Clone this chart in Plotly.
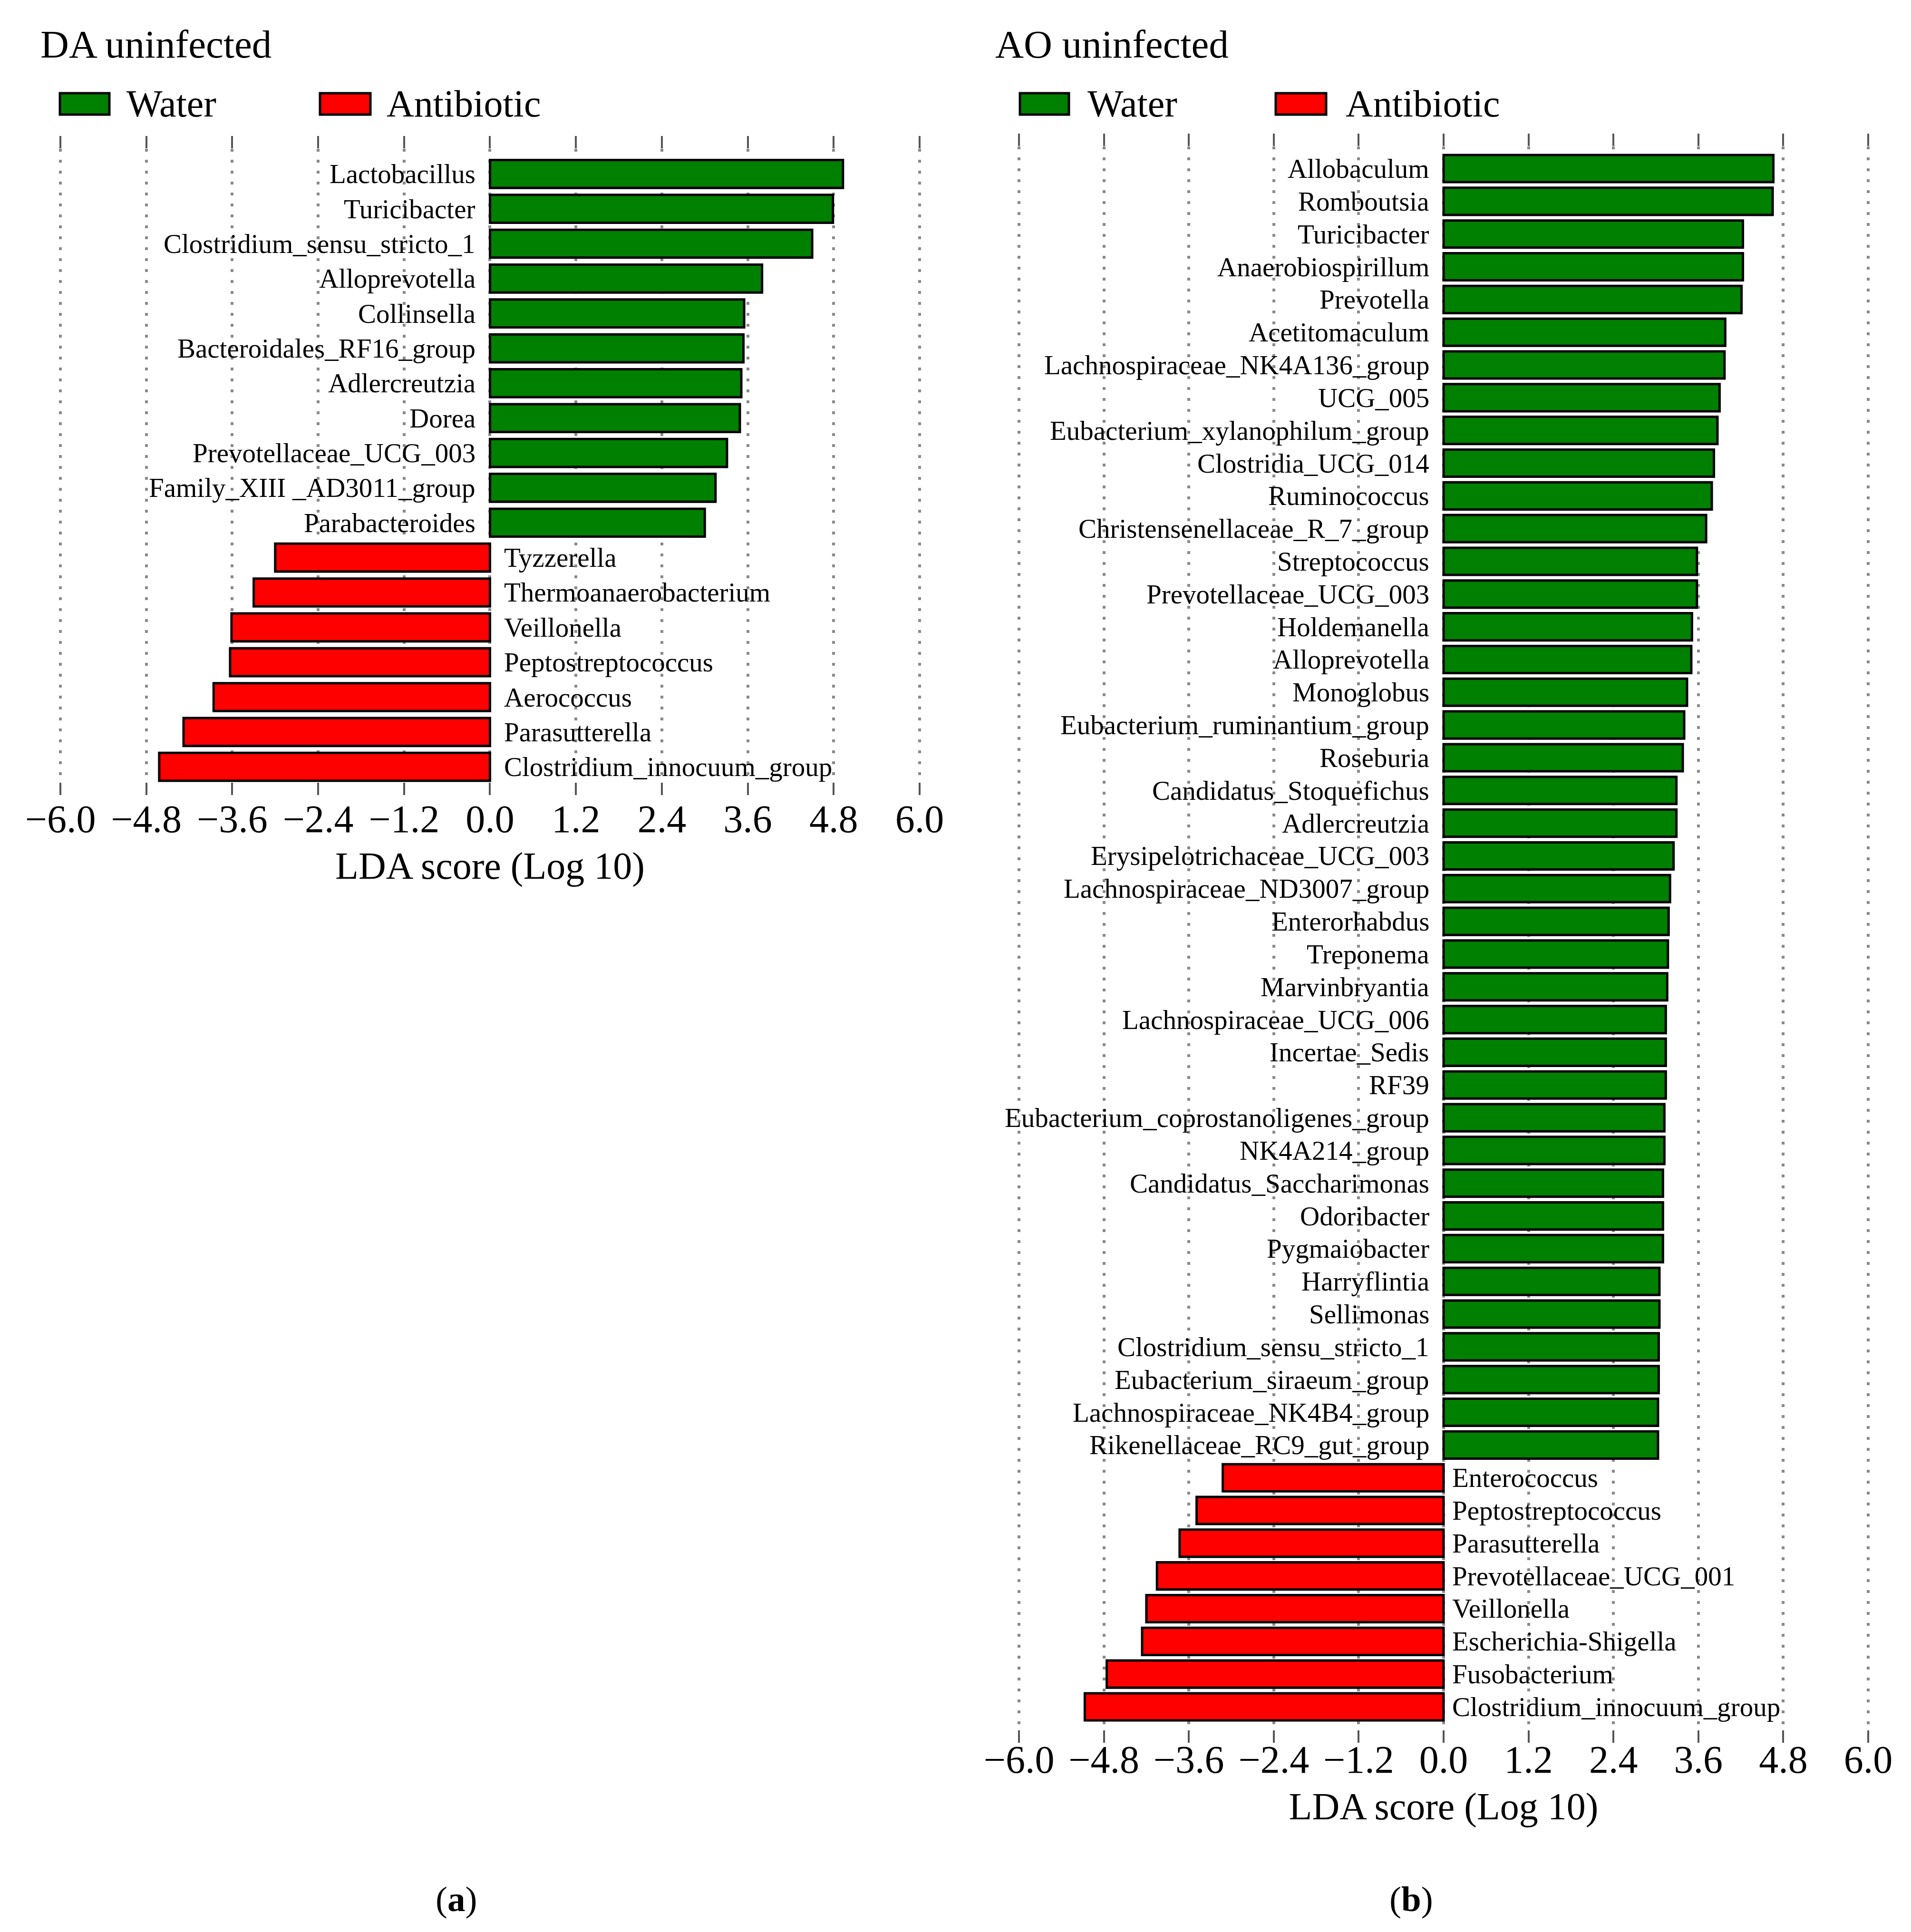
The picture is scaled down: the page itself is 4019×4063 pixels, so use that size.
import plotly.graph_objects as go

# LEfSe LDA scores (positive = Water, negative = Antibiotic)
da_taxa = [
    "Lactobacillus", "Turicibacter", "Clostridium_sensu_stricto_1", "Alloprevotella",
    "Collinsella", "Bacteroidales_RF16_group", "Adlercreutzia", "Dorea",
    "Prevotellaceae_UCG_003", "Family_XIII _AD3011_group", "Parabacteroides",
    "Tyzzerella", "Thermoanaerobacterium", "Veillonella", "Peptostreptococcus",
    "Aerococcus", "Parasutterella", "Clostridium_innocuum_group",
]
da_lda = [
    4.93, 4.79, 4.50, 3.80, 3.55, 3.54, 3.51, 3.49, 3.31, 3.15, 3.00,
    -3.00, -3.30, -3.61, -3.63, -3.86, -4.28, -4.62,
]

ao_taxa = [
    "Allobaculum", "Romboutsia", "Turicibacter", "Anaerobiospirillum", "Prevotella",
    "Acetitomaculum", "Lachnospiraceae_NK4A136_group", "UCG_005",
    "Eubacterium_xylanophilum_group", "Clostridia_UCG_014", "Ruminococcus",
    "Christensenellaceae_R_7_group", "Streptococcus", "Prevotellaceae_UCG_003",
    "Holdemanella", "Alloprevotella", "Monoglobus", "Eubacterium_ruminantium_group",
    "Roseburia", "Candidatus_Stoquefichus", "Adlercreutzia",
    "Erysipelotrichaceae_UCG_003", "Lachnospiraceae_ND3007_group", "Enterorhabdus",
    "Treponema", "Marvinbryantia", "Lachnospiraceae_UCG_006", "Incertae_Sedis", "RF39",
    "Eubacterium_coprostanoligenes_group", "NK4A214_group", "Candidatus_Saccharimonas",
    "Odoribacter", "Pygmaiobacter", "Harryflintia", "Sellimonas",
    "Clostridium_sensu_stricto_1", "Eubacterium_siraeum_group",
    "Lachnospiraceae_NK4B4_group", "Rikenellaceae_RC9_gut_group",
    "Enterococcus", "Peptostreptococcus", "Parasutterella", "Prevotellaceae_UCG_001",
    "Veillonella", "Escherichia-Shigella", "Fusobacterium", "Clostridium_innocuum_group",
]
ao_lda = [
    4.66, 4.65, 4.23, 4.23, 4.21, 3.98, 3.97, 3.90, 3.87, 3.82, 3.79, 3.71,
    3.58, 3.58, 3.51, 3.50, 3.44, 3.40, 3.38, 3.29, 3.29, 3.25, 3.20, 3.18,
    3.17, 3.16, 3.14, 3.14, 3.14, 3.12, 3.12, 3.10, 3.10, 3.10, 3.05, 3.05,
    3.04, 3.04, 3.03, 3.03,
    -3.12, -3.49, -3.73, -4.05, -4.20, -4.26, -4.76, -5.07,
]

groups = ["Water", "Antibiotic"]
group_colors = ["#008000", "#ff0000"]
tick_vals = [-6.0, -4.8, -3.6, -2.4, -1.2, 0.0, 1.2, 2.4, 3.6, 4.8, 6.0]
tick_text = ["\u22126.0", "\u22124.8", "\u22123.6", "\u22122.4", "\u22121.2",
             "0.0", "1.2", "2.4", "3.6", "4.8", "6.0"]

W, H = 4019, 4063
FONT = "Liberation Serif"

fig = go.Figure()


def add_panel(taxa, lda, xa, ya, width, label_gap_pos, label_gap_neg):
    idx = list(range(len(taxa)))
    fig.add_trace(go.Bar(
        x=lda, y=idx, orientation="h", width=width,
        marker=dict(color=[group_colors[0] if v > 0 else group_colors[1] for v in lda],
                    line=dict(color="black", width=5)),
        xaxis=xa, yaxis=ya, showlegend=False, hoverinfo="x+text", text=taxa,
        textposition="none",
    ))
    for i, (name, v) in enumerate(zip(taxa, lda)):
        fig.add_annotation(
            x=0, y=i, xref=xa, yref=ya, text=name, showarrow=False,
            xanchor="right" if v > 0 else "left",
            xshift=-label_gap_pos if v > 0 else label_gap_neg,
            font=dict(family=FONT, size=57, color="black"),
        )


add_panel(da_taxa, da_lda, "x", "y", 0.8, 28, 28)
add_panel(ao_taxa, ao_lda, "x2", "y2", 0.83, 28, 16)

xcommon = dict(
    range=[-6.05, 6.05], tickvals=tick_vals, ticktext=tick_text, automargin=False,
    ticks="outside", ticklen=26, tickwidth=4, tickcolor="#555555",
    mirror="ticks", showline=False, zeroline=False,
    showgrid=True, gridcolor="#8a8a8a", gridwidth=6, griddash="6px,17px",
    tickfont=dict(family=FONT, size=82, color="black"),
    title=dict(text="LDA score (Log 10)", font=dict(family=FONT, size=80, color="black"),
               standoff=24),
)

fig.update_layout(
    width=W, height=H, margin=dict(l=0, r=0, t=0, b=0, autoexpand=False),
    paper_bgcolor="white", plot_bgcolor="white",
    xaxis=dict(domain=[0.02973, 0.48308], anchor="y", ticklabelstandoff=-20, **xcommon),
    yaxis=dict(domain=[0.59513, 0.92296], anchor="x", range=[17.44, -0.72],
               visible=False),
    xaxis2=dict(domain=[0.53137, 0.97945], anchor="y2", ticklabelstandoff=-35, **xcommon),
    yaxis2=dict(domain=[0.10460, 0.92419], anchor="x2", range=[47.705, -0.676],
                visible=False),
)

# panel titles and sub-figure labels
for txt, x in [("DA uninfected", 0.02065), ("AO uninfected", 0.52028)]:
    fig.add_annotation(x=x, y=1 - 93 / H, xref="paper", yref="paper", text=txt,
                       showarrow=False, xanchor="left", yanchor="middle",
                       font=dict(family=FONT, size=83, color="black"))
for txt, x in [("(<b>a</b>)", 0.23862), ("(<b>b</b>)", 0.73849)]:
    fig.add_annotation(x=x, y=1 - 3993 / H, xref="paper", yref="paper", text=txt,
                       showarrow=False, xanchor="center", yanchor="middle",
                       font=dict(family=FONT, size=75, color="black"))

# legend swatches (one row per panel)
legend_rows = [
    [(126, 230, 264), (673, 779, 811)],
    [(2145, 2248, 2285), (2683, 2789, 2828)],
]
for row in legend_rows:
    for (bx0, bx1, tx), name, col in zip(row, groups, group_colors):
        fig.add_shape(type="rect", xref="paper", yref="paper",
                      x0=bx0 / W, x1=bx1 / W, y0=1 - 241 / H, y1=1 - 196 / H,
                      fillcolor=col, line=dict(color="black", width=5))
        fig.add_annotation(x=tx / W, y=1 - 218 / H, xref="paper", yref="paper",
                           text=name, showarrow=False, xanchor="left", yanchor="middle",
                           font=dict(family=FONT, size=80, color="black"))

# drop the browser's default 8px body margin so the figure sits at (0, 0)
fig.write_html("out.html", config={"displayModeBar": False},
               post_script="document.body.style.margin = '0px';")
